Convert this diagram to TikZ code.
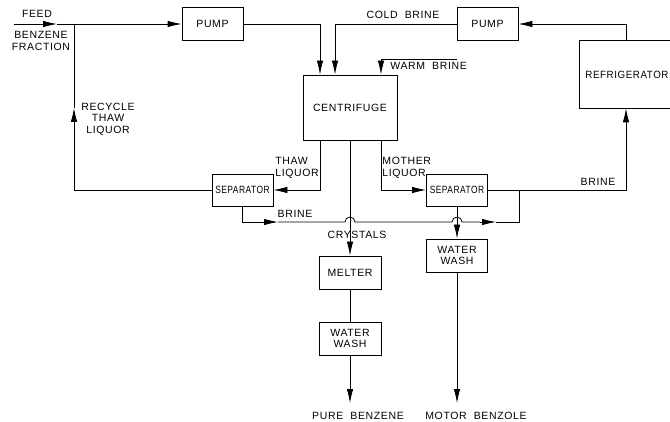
\documentclass[tikz,border=0pt]{standalone}
\usepackage{fontspec}
\setmainfont{Liberation Sans}[LetterSpace=6]
\usepackage{graphicx}
\usetikzlibrary{arrows.meta,calc}
\begin{document}
\begin{tikzpicture}[x=1pt,y=-1pt,
  font=\fontsize{10.5}{11.5}\selectfont,
  line width=0.8pt,
  box/.style={draw, line width=0.8pt, inner sep=0pt, align=center},
  lbl/.style={inner sep=0pt, align=center},
  arr/.style={-{Latex[length=14pt,width=6.5pt]}}]
\useasboundingbox (0,0) rectangle (670,422);
\clip (0,0) rectangle (670,422);
% boxes
\node[box, minimum width=61pt, minimum height=33pt] (pumpA) at (212.5,24) {PUMP};
\node[box, minimum width=61pt, minimum height=33pt] (pumpB) at (487.5,24) {PUMP};
\node[box, minimum width=94pt, minimum height=65pt] (cent) at (350,107.5) {CENTRIFUGE};
\node[box, minimum width=101pt, minimum height=68pt] (refr) at (629.5,74) {};
\node[box, minimum width=61pt, minimum height=32pt] (sepL) at (242.5,190) {\scalebox{0.8}[1]{SEPARATOR}};
\node[box, minimum width=61pt, minimum height=32pt] (sepR) at (457,190) {\scalebox{0.8}[1]{SEPARATOR}};
\node[box, minimum width=62pt, minimum height=33pt] (melter) at (350,272.5) {MELTER};
\node[box, minimum width=62pt, minimum height=33pt] (wwA) at (350,338.5) {WATER\\WASH};
\node[box, minimum width=61pt, minimum height=33pt] (wwB) at (457,255.5) {WATER\\WASH};
% helper coordinates
\coordinate (c1) at (320,0);
\coordinate (c2) at (335,0);
\coordinate (c3) at (381,0);
\coordinate (c5) at (626,0);
\coordinate (c6) at (519,0);
\coordinate (feedstart) at (14,24);
\coordinate (fa) at (57,24);
\coordinate (junc) at (74,24);
\coordinate (rcA) at (74,124);
\coordinate (rcB) at (74,108);
\coordinate (wb) at (457,59);
\coordinate (bA) at (262,222);
\coordinate (bB) at (278,222);
\coordinate (bC) at (480,222);
\coordinate (bD) at (496,222);
\coordinate (outA) at (350,403);
\coordinate (outB) at (457,403);
% feed
\draw[arr] (feedstart) -- (fa);
\draw (fa) -- (junc);
\draw[arr] (junc) -- (pumpA.west);
% recycle
\draw (sepL.west) -- (sepL.west -| junc) -- (rcA);
\draw[arr] (rcA) -- (rcB);
\draw (rcB) -- (junc);
% to centrifuge
\draw[arr] (pumpA.east) -| (c1 |- cent.north);
\draw[arr] (pumpB.west) -| (c2 |- cent.north);
\draw[arr] (wb) -| (c3 |- cent.north);
% refrigerator loop
\draw[arr] (c5 |- refr.north) |- (pumpB.east);
\draw[arr] (sepR.east) -| (c5 |- refr.south);
% from centrifuge
\draw[arr] (c1 |- cent.south) |- (sepL.east);
\draw[arr] (c3 |- cent.south) |- (sepR.west);
\draw[arr] (cent.south) -- (melter.north);
\draw (melter.south) -- (wwA.north);
\draw[arr] (wwA.south) -- (outA);
\draw[arr] (sepR.south) -- (wwB.north);
\draw[arr] (wwB.south) -- (outB);
% brine from left separator
\draw (sepL.south) |- (bA);
\draw[arr] (bA) -- (bB);
\draw (bB) -- (345,222) arc (180:360:5) -- (452,222) arc (180:360:5) -- (bC);
\draw[arr] (bC) -- (bD);
\draw (bD) -- (c6 |- bD) -- (c6 |- sepR.east);
% labels
\node[lbl, anchor=west] (tRefr) at (585,75) {\scalebox{0.93}[1]{REFRIGERATOR}};
\node[lbl] (tFeed) at (37,14) {FEED};
\node[lbl] (tBF) at (41,41) {BENZENE\\FRACTION};
\node[lbl] (tRec) at (108,119) {RECYCLE\\THAW\\LIQUOR};
\node[lbl, anchor=west, align=left] (tThaw) at (275,168) {THAW\\LIQUOR};
\node[lbl] (tCold) at (403,15) {COLD\ \ BRINE};
\node[lbl, anchor=west] (tWarm) at (390,66) {WARM\ \ BRINE};
\node[lbl, anchor=west, align=left] (tMother) at (382,168) {MOTHER\\LIQUOR};
\node[lbl] (tBrR) at (598,182) {BRINE};
\node[lbl] (tBrL) at (295,214) {BRINE};
\node[lbl] (tCry) at (357,235) {CRYSTALS};
\node[lbl] (tPure) at (358,416) {PURE\ \ BENZENE};
\node[lbl] (tMotor) at (476,416) {MOTOR\ \ BENZOLE};
\end{tikzpicture}
\end{document}
